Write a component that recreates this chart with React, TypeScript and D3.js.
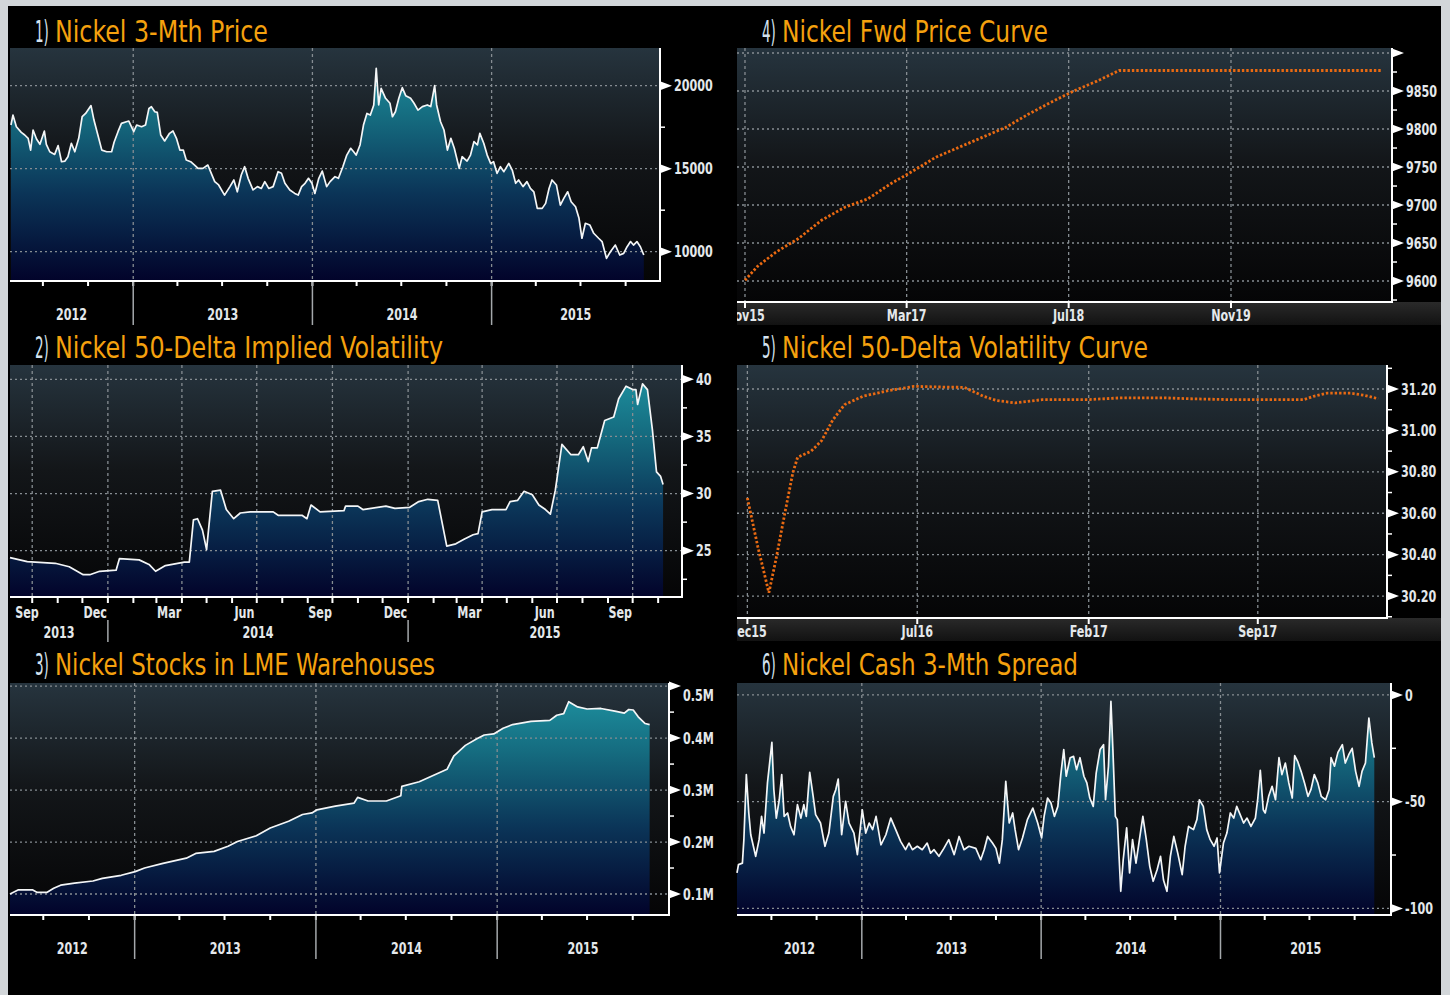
import React from "react";
import * as d3 from "d3";

const W = 1450;
const H = 995;
const FONT = "'Liberation Sans Narrow', 'DejaVu Sans Condensed', 'Arial Narrow', sans-serif";
const ORANGE = "#f5a10e";
const GRID = "#868d92";
const parse = d3.timeParse("%Y-%m-%d");

// 1) Nickel 3-Mth Price
const priceDates = [
  "2012-04-27","2012-05-01","2012-05-08","2012-05-18","2012-05-25","2012-06-01","2012-06-06","2012-06-11","2012-06-18","2012-06-25",
  "2012-07-04","2012-07-08","2012-07-15","2012-07-25","2012-08-01","2012-08-08","2012-08-15","2012-08-21","2012-08-28","2012-09-04",
  "2012-09-12","2012-09-19","2012-09-26","2012-10-07","2012-10-13","2012-10-21","2012-10-29","2012-11-08","2012-11-18","2012-11-23",
  "2012-12-01","2012-12-08","2012-12-18","2012-12-23","2013-01-02","2013-01-08","2013-01-18","2013-01-26","2013-02-02","2013-02-07",
  "2013-02-14","2013-02-19","2013-02-26","2013-03-06","2013-03-16","2013-03-23","2013-03-30","2013-04-06","2013-04-13","2013-04-19",
  "2013-04-28","2013-05-06","2013-05-13","2013-05-23","2013-06-02","2013-06-09","2013-06-16","2013-06-24","2013-07-06","2013-07-17",
  "2013-07-25","2013-08-01","2013-08-09","2013-08-16","2013-08-23","2013-09-02","2013-09-11","2013-09-19","2013-09-26","2013-10-04",
  "2013-10-13","2013-10-23","2013-10-30","2013-11-06","2013-11-16","2013-11-26","2013-12-03","2013-12-10","2013-12-17","2013-12-24",
  "2013-12-31","2014-01-06","2014-01-14","2014-01-21","2014-01-30","2014-02-06","2014-02-16","2014-02-23","2014-03-04","2014-03-12",
  "2014-03-20","2014-03-26","2014-03-31","2014-04-08","2014-04-15","2014-04-22","2014-04-29","2014-05-06","2014-05-11","2014-05-16",
  "2014-05-21","2014-05-30","2014-06-08","2014-06-13","2014-06-19","2014-06-26","2014-07-03","2014-07-10","2014-07-20","2014-07-27",
  "2014-08-04","2014-08-13","2014-08-23","2014-08-30","2014-09-07","2014-09-11","2014-09-19","2014-09-26","2014-10-03","2014-10-10",
  "2014-10-17","2014-10-27","2014-11-02","2014-11-12","2014-11-19","2014-11-26","2014-12-03","2014-12-08","2014-12-16","2014-12-23",
  "2014-12-30","2015-01-05","2015-01-12","2015-01-19","2015-01-26","2015-02-05","2015-02-12","2015-02-19","2015-02-25","2015-03-06",
  "2015-03-14","2015-03-21","2015-03-28","2015-04-04","2015-04-14","2015-04-21","2015-04-28","2015-05-04","2015-05-13","2015-05-21",
  "2015-05-28","2015-06-05","2015-06-12","2015-06-21","2015-06-28","2015-07-04","2015-07-11","2015-07-20","2015-07-28","2015-08-07",
  "2015-08-14","2015-08-23","2015-08-31","2015-09-10","2015-09-19","2015-09-27","2015-10-04","2015-10-11","2015-10-17","2015-10-24",
  "2015-10-31","2015-11-07"
];
const priceValues = [
  17630,18230,17530,17190,17030,16830,16120,17330,16790,16470,
  17270,16470,16020,15860,16390,15420,15460,15720,16530,16020,
  16830,18130,18330,18800,17930,17030,16120,16020,16020,16590,
  17230,17730,17830,17870,17230,17630,17530,17630,18630,18730,
  18430,18390,17030,16670,17130,17270,16830,16120,16120,15520,
  15420,15220,15020,15020,15220,14720,14220,14020,13410,13920,
  14320,13610,14620,15120,14420,13720,13920,13810,14220,13810,
  13920,14820,14720,14120,13720,13510,13410,13920,14120,14420,
  14120,13510,14420,14860,13920,14220,14520,14420,15120,15820,
  16230,16020,15820,16430,17630,18330,18230,18840,21040,18840,
  19840,19240,18940,18130,18430,19240,19880,19400,19240,18940,
  18530,18740,18840,18740,20000,18840,17830,17330,16120,16830,
  16230,15020,15720,15460,15820,16630,16430,17130,16530,15820,
  15320,15420,14720,15120,14820,15320,14920,14120,14320,13920,
  14220,13810,13610,12610,12610,12910,13810,14320,14020,12810,
  13210,13610,13010,12710,12010,10810,11710,11610,11110,10810,
  10610,9600,10000,10400,9800,9900,10300,10610,10400,10610,
  10300,9800
];

// 2) Nickel 50-Delta Implied Volatility
const volDates = [
  "2013-09-04","2013-09-25","2013-10-29","2013-11-15","2013-12-02","2013-12-10","2013-12-22","2014-01-11","2014-01-15","2014-02-08",
  "2014-02-20","2014-02-28","2014-03-12","2014-04-04","2014-04-10","2014-04-15","2014-04-20","2014-04-26","2014-05-01","2014-05-08",
  "2014-05-18","2014-05-25","2014-06-03","2014-06-11","2014-06-23","2014-07-21","2014-07-27","2014-08-25","2014-08-31","2014-09-05",
  "2014-09-16","2014-10-15","2014-10-17","2014-11-01","2014-11-07","2014-12-05","2014-12-16","2015-01-03","2015-01-14","2015-01-25",
  "2015-02-06","2015-02-17","2015-02-28","2015-03-10","2015-03-21","2015-03-27","2015-04-01","2015-04-13","2015-04-30","2015-05-05",
  "2015-05-14","2015-05-22","2015-06-01","2015-06-09","2015-06-17","2015-06-23","2015-06-29","2015-07-07","2015-07-18","2015-07-27",
  "2015-08-02","2015-08-08","2015-08-12","2015-08-19","2015-08-28","2015-09-08","2015-09-14","2015-09-23","2015-10-01","2015-10-05",
  "2015-10-07","2015-10-13","2015-10-19","2015-10-25","2015-10-30","2015-11-04","2015-11-07"
];
const volValues = [
  24.4,24.05,23.9,23.6,22.9,22.9,23.2,23.3,24.3,24.2,
  23.8,23.2,23.7,24.0,24.0,27.7,27.8,26.8,25.1,30.2,
  30.3,28.6,27.8,28.3,28.4,28.4,28.1,28.1,27.8,29.0,
  28.4,28.5,28.9,28.9,28.6,28.9,28.7,28.8,29.3,29.5,
  29.4,25.4,25.6,26.0,26.4,26.5,28.4,28.6,28.6,29.3,
  29.4,30.2,29.9,29.0,28.6,28.2,30.3,34.3,33.4,33.4,
  34.1,32.8,34.0,34.0,36.4,36.7,38.3,39.4,39.1,39.1,
  37.8,39.6,39.1,35.6,31.9,31.5,30.8
];

// 3) Nickel Stocks in LME Warehouses (million tonnes)
const stockDates = [
  "2012-04-25","2012-05-12","2012-06-09","2012-06-19","2012-07-08","2012-07-22","2012-08-05","2012-09-02","2012-10-09","2012-10-28",
  "2012-12-05","2013-01-02","2013-01-21","2013-02-27","2013-04-15","2013-05-04","2013-06-10","2013-07-08","2013-07-27","2013-09-03",
  "2013-10-01","2013-11-07","2013-12-05","2013-12-24","2014-01-03","2014-02-09","2014-03-19","2014-03-26","2014-04-16","2014-05-23",
  "2014-06-21","2014-06-23","2014-07-28","2014-08-25","2014-09-22","2014-10-06","2014-10-29","2014-11-22","2014-12-06","2014-12-25",
  "2015-01-13","2015-02-01","2015-03-10","2015-04-17","2015-05-01","2015-05-15","2015-05-25","2015-06-12","2015-07-01","2015-07-29",
  "2015-08-26","2015-09-14","2015-09-23","2015-10-02","2015-10-12","2015-10-26","2015-11-04"
];
const stockValues = [
  0.100,0.108,0.108,0.103,0.103,0.111,0.117,0.121,0.125,0.130,
  0.136,0.143,0.150,0.159,0.169,0.178,0.182,0.192,0.201,0.212,
  0.227,0.240,0.253,0.256,0.262,0.269,0.275,0.286,0.279,0.279,
  0.289,0.307,0.316,0.328,0.340,0.366,0.386,0.399,0.406,0.408,
  0.419,0.426,0.432,0.434,0.444,0.447,0.470,0.460,0.456,0.457,
  0.452,0.448,0.455,0.454,0.441,0.428,0.426
];

// 4) Nickel Fwd Price Curve
const fwdDates = [
  "2015-11-01","2015-12-08","2016-02-02","2016-04-10","2016-06-18","2016-08-27","2016-11-04","2017-01-12","2017-03-21","2017-05-28",
  "2017-08-06","2017-10-14","2017-12-23","2018-02-28","2018-05-08","2018-07-16","2018-09-24","2018-11-30","2021-01-28"
];
const fwdValues = [
  9601,9619,9638,9656,9680,9697,9708,9728,9745,9763,
  9776,9789,9802,9819,9835,9850,9863,9877,9877
];

// 5) Nickel 50-Delta Volatility Curve
const volCurveDates = [
  "2015-12-01","2015-12-14","2015-12-28","2016-01-06","2016-01-18","2016-01-27","2016-02-02","2016-02-19","2016-03-03","2016-03-17",
  "2016-04-01","2016-04-24","2016-05-23","2016-06-27","2016-07-25","2016-08-29","2016-09-22","2016-10-09","2016-11-01","2016-12-05",
  "2017-02-02","2017-03-12","2017-05-09","2017-06-07","2017-07-23","2017-09-02","2017-10-29","2017-11-10","2017-11-27","2017-12-26",
  "2018-01-12","2018-01-30"
];
const volCurveValues = [
  30.674,30.44,30.216,30.38,30.62,30.795,30.87,30.90,30.95,31.05,
  31.125,31.165,31.19,31.213,31.21,31.208,31.165,31.144,31.133,31.149,
  31.149,31.157,31.157,31.153,31.149,31.149,31.149,31.165,31.18,31.18,
  31.17,31.153
];

// 6) Nickel Cash 3-Mth Spread
const spreadDates = [
  "2012-04-22","2012-04-25","2012-05-03","2012-05-06","2012-05-11","2012-05-16","2012-05-20","2012-05-30","2012-06-06","2012-06-11",
  "2012-06-16","2012-06-23","2012-07-02","2012-07-06","2012-07-11","2012-07-17","2012-07-22","2012-07-27","2012-08-03","2012-08-09",
  "2012-08-16","2012-08-23","2012-08-30","2012-09-05","2012-09-10","2012-09-17","2012-09-24","2012-09-29","2012-10-09","2012-10-18",
  "2012-10-26","2012-11-04","2012-11-09","2012-11-14","2012-11-21","2012-11-29","2012-12-06","2012-12-16","2012-12-23","2013-01-02",
  "2013-01-09","2013-01-16","2013-01-23","2013-01-30","2013-02-09","2013-02-19","2013-03-01","2013-03-11","2013-03-21","2013-03-31",
  "2013-04-07","2013-04-14","2013-04-24","2013-05-04","2013-05-14","2013-05-21","2013-05-28","2013-06-07","2013-06-17","2013-06-27",
  "2013-07-08","2013-07-18","2013-07-28","2013-08-07","2013-08-21","2013-08-31","2013-09-07","2013-09-14","2013-09-24","2013-10-01",
  "2013-10-08","2013-10-14","2013-10-21","2013-10-28","2013-11-04","2013-11-09","2013-11-16","2013-11-24","2013-12-04","2013-12-15",
  "2013-12-25","2014-01-02","2014-01-07","2014-01-14","2014-01-21","2014-01-28","2014-02-04","2014-02-10","2014-02-16","2014-02-21",
  "2014-03-01","2014-03-08","2014-03-14","2014-03-21","2014-03-29","2014-04-04","2014-04-10","2014-04-17","2014-04-23","2014-05-01",
  "2014-05-08","2014-05-12","2014-05-18","2014-05-23","2014-05-27","2014-06-01","2014-06-05","2014-06-12","2014-06-17","2014-06-24",
  "2014-06-30","2014-07-06","2014-07-13","2014-07-20","2014-07-27","2014-08-03","2014-08-10","2014-08-17","2014-08-25","2014-09-01",
  "2014-09-07","2014-09-14","2014-09-21","2014-09-28","2014-10-06","2014-10-15","2014-10-21","2014-10-28","2014-11-07","2014-11-14",
  "2014-11-19","2014-11-27","2014-12-04","2014-12-11","2014-12-19","2014-12-25","2014-12-30","2015-01-07","2015-01-14","2015-01-21",
  "2015-01-28","2015-02-03","2015-02-10","2015-02-17","2015-02-24","2015-03-04","2015-03-13","2015-03-18","2015-03-23","2015-03-29",
  "2015-04-02","2015-04-09","2015-04-16","2015-04-23","2015-04-30","2015-05-06","2015-05-13","2015-05-20","2015-05-27","2015-06-01",
  "2015-06-07","2015-06-14","2015-06-21","2015-06-28","2015-07-04","2015-07-11","2015-07-18","2015-07-25","2015-08-03","2015-08-10",
  "2015-08-14","2015-08-21","2015-08-28","2015-09-06","2015-09-12","2015-09-19","2015-09-26","2015-10-03","2015-10-10","2015-10-16",
  "2015-10-23","2015-10-30","2015-11-05","2015-11-10"
];
const spreadValues = [
  -83.4,-79.5,-78.8,-67.8,-37.3,-55.3,-65.5,-75.6,-67.8,-56.9,
  -64.7,-41.2,-22.2,-44.4,-57.7,-49.1,-37.3,-56.9,-55.3,-61.6,
  -65.5,-51.4,-57.7,-51.4,-56.9,-36.3,-47.5,-56.1,-60,-70.9,
  -64.7,-47.5,-44.4,-39.4,-65.5,-49.8,-60,-64.7,-74.8,-53.8,
  -64.7,-60,-63.1,-56.9,-70.2,-65.5,-57.7,-63.1,-68.6,-72.5,
  -69.4,-72.5,-70.9,-72.5,-69.4,-74.1,-72.5,-75.6,-71.9,-67.8,
  -74.8,-66.3,-72.5,-70.9,-71.9,-77.2,-72.5,-66.3,-69.4,-71.9,
  -78.8,-67.8,-40.5,-60,-55.3,-63.1,-72.5,-67,-58.4,-53,
  -60,-67,-56.9,-48.3,-50.6,-56.9,-52.2,-37.3,-25.6,-38.1,
  -29.4,-28.8,-35,-29.4,-38.1,-41.2,-48.3,-52.2,-36.6,-25.6,
  -23.3,-49.1,-33.4,-3.0,-25.6,-56.9,-58.4,-92,-77.2,-62.3,
  -83.4,-67.8,-78.8,-67.8,-56.9,-67.8,-80.3,-87.3,-81.9,-75.6,
  -86.7,-92,-75.6,-66.3,-74.1,-84.2,-70.9,-61.6,-63.1,-58.4,
  -49.1,-52.2,-63.1,-67.8,-70.9,-67,-83.4,-69.4,-64.7,-55.3,
  -57.7,-52.2,-56.1,-60,-57.7,-61.6,-57.7,-48.3,-35.3,-53.8,
  -55.3,-47.5,-42.8,-49.1,-29.4,-37.3,-31.9,-41.2,-48.3,-28.4,
  -31.1,-35.8,-41.2,-47.5,-44.4,-37.3,-41.2,-47.5,-49.1,-44.4,
  -29.4,-33.4,-26.9,-23.3,-31.9,-28,-25,-35.8,-42.8,-35.8,
  -31.9,-10.8,-22.5,-29.4
];

// axis ticks
const priceTicks = [20000, 15000, 10000];
const priceMinor = [17500, 12500];
const volTicks = [40, 35, 30, 25];
const volMinor = [37.5, 32.5, 27.5, 22.5];
const stockTicks = [0.5, 0.4, 0.3, 0.2, 0.1];
const stockMinor = [0.45, 0.35, 0.25, 0.15];
const fwdTicks = [9900, 9850, 9800, 9750, 9700, 9650, 9600];
const fwdMinor = [9875, 9825, 9775, 9725, 9675, 9625, 9575];
const volCurveTicks = [31.2, 31.0, 30.8, 30.6, 30.4, 30.2];
const volCurveMinor = [31.3, 31.1, 30.9, 30.7, 30.5, 30.3, 30.1];
const spreadTicks = [0, -50, -100];
const spreadMinor = [-25, -75];
const fwdAxisDates = ["2015-11-01", "2017-03-01", "2018-07-01", "2019-11-01"];
const volCurveAxisDates = ["2015-12-01", "2016-07-01", "2017-02-01", "2017-09-01"];

type Cfg = {
  id: string;
  num: string;
  title: string;
  titleW: number;
  tx: number;
  ty: number;
  x0: number; x1: number; y0: number; y1: number;
  xDomain: [string, string];
  yDomain: [number, number];
  ticks: number[];
  labels: string[];
  minor: number[];
  dates: string[];
  values: number[];
  kind: "area" | "dots";
  axis: "years" | "months" | "band";
  bandDates?: string[];
};

const panels: Cfg[] = [
  {
    id: "p1", num: "1)", title: "Nickel 3-Mth Price", titleW: 213, tx: 35, ty: 42,
    x0: 10, x1: 660, y0: 48, y1: 281, xDomain: ["2012-04-25", "2015-12-10"], yDomain: [8235, 22270],
    ticks: priceTicks, labels: priceTicks.map(String), minor: priceMinor,
    dates: priceDates, values: priceValues, kind: "area", axis: "years"
  },
  {
    id: "p2", num: "2)", title: "Nickel 50-Delta Implied Volatility", titleW: 388, tx: 35, ty: 358,
    x0: 10, x1: 682, y0: 365, y1: 597, xDomain: ["2013-09-04", "2015-11-30"], yDomain: [20.95, 41.25],
    ticks: volTicks, labels: volTicks.map(String), minor: volMinor,
    dates: volDates, values: volValues, kind: "area", axis: "months"
  },
  {
    id: "p3", num: "3)", title: "Nickel Stocks in LME Warehouses", titleW: 380, tx: 35, ty: 675,
    x0: 10, x1: 669, y0: 683, y1: 915, xDomain: ["2012-04-25", "2015-12-13"], yDomain: [0.0596, 0.506],
    ticks: stockTicks, labels: stockTicks.map(v => v.toFixed(1) + "M"), minor: stockMinor,
    dates: stockDates, values: stockValues, kind: "area", axis: "years"
  },
  {
    id: "p4", num: "4)", title: "Nickel Fwd Price Curve", titleW: 266, tx: 762, ty: 42,
    x0: 737, x1: 1392, y0: 48, y1: 302, xDomain: ["2015-10-08", "2021-02-27"], yDomain: [9572.4, 9906.6],
    ticks: fwdTicks, labels: fwdTicks.map(v => (v === 9900 ? "" : String(v))), minor: fwdMinor,
    dates: fwdDates, values: fwdValues, kind: "dots", axis: "band", bandDates: fwdAxisDates
  },
  {
    id: "p5", num: "5)", title: "Nickel 50-Delta Volatility Curve", titleW: 366, tx: 762, ty: 358,
    x0: 737, x1: 1387, y0: 365, y1: 618, xDomain: ["2015-11-18", "2018-02-10"], yDomain: [30.094, 31.316],
    ticks: volCurveTicks, labels: volCurveTicks.map(v => v.toFixed(2)), minor: volCurveMinor,
    dates: volCurveDates, values: volCurveValues, kind: "dots", axis: "band", bandDates: volCurveAxisDates
  },
  {
    id: "p6", num: "6)", title: "Nickel Cash 3-Mth Spread", titleW: 296, tx: 762, ty: 675,
    x0: 737, x1: 1391, y0: 683, y1: 915, xDomain: ["2012-04-22", "2015-12-14"], yDomain: [-103.1, 5.6],
    ticks: spreadTicks, labels: spreadTicks.map(String), minor: spreadMinor,
    dates: spreadDates, values: spreadValues, kind: "area", axis: "years"
  }
];

const axisText = { fontFamily: FONT, fontWeight: 700, fontSize: 15.5, fill: "#e4e8eb" } as const;

// condensed label: the installed fonts are wider than the terminal font, so squeeze horizontally
function Lbl({ x, y, anchor = "start", children }: { x: number; y: number; anchor?: string; children: React.ReactNode }) {
  return (
    <g transform={`translate(${x},${y}) scale(0.8,1)`}>
      <text dy="0.36em" textAnchor={anchor as any} {...axisText}>{children}</text>
    </g>
  );
}

function Panel({ c }: { c: Cfg }) {
  const { x0, x1, y0, y1 } = c;
  const start = parse(c.xDomain[0])!;
  const end = parse(c.xDomain[1])!;
  const x = d3.scaleTime().domain([start, end]).range([x0, x1]);
  const y = d3.scaleLinear().domain(c.yDomain).range([y1, y0]);
  const pts = c.dates.map((d, i) => ({ t: parse(d)!, v: c.values[i] }));
  type P = { t: Date; v: number };
  const line = d3.line<P>().x(d => x(d.t)).y(d => y(d.v));
  const area = d3.area<P>().x(d => x(d.t)).y0(y1).y1(d => y(d.v));

  let vgrid: Date[] = [];
  if (c.axis === "years") vgrid = d3.timeYear.range(start, end).filter(d => d > start);
  if (c.axis === "months") vgrid = d3.timeMonth.range(start, end).filter(d => d.getMonth() % 3 === 0);
  if (c.axis === "band") vgrid = (c.bandDates || []).map(d => parse(d)!);

  const years = d3.timeYear.range(d3.timeYear.floor(start), end);
  const yearLabels = years.map(yr => {
    const a = Math.max(x0, x(yr));
    const b = Math.min(x1, x(d3.timeYear.offset(yr, 1)));
    return { label: String(yr.getFullYear()), cx: (a + b) / 2, w: b - a };
  }).filter(d => d.w > 30);

  const out: React.ReactNode[] = [];

  if (c.axis === "years") {
    d3.timeMonth.every(3)!.range(start, end).forEach((q, i) =>
      out.push(<line key={"q" + i} x1={x(q)} x2={x(q)} y1={y1} y2={y1 + 5} stroke="#fff" strokeWidth={2} />)
    );
    vgrid.forEach((yr, i) =>
      out.push(<line key={"ys" + i} x1={x(yr)} x2={x(yr)} y1={y1} y2={y1 + 44} stroke="#a4a8ab" strokeWidth={1.5} />)
    );
    yearLabels.forEach((d, i) => out.push(<Lbl key={"yl" + i} x={d.cx} y={y1 + 33} anchor="middle">{d.label}</Lbl>));
  }
  if (c.axis === "months") {
    d3.timeMonth.range(start, end).filter(d => d > start).forEach((m, i) =>
      out.push(<line key={"m" + i} x1={x(m)} x2={x(m)} y1={y1} y2={y1 + 6} stroke="#fff" strokeWidth={2} />)
    );
    d3.timeMonth.range(d3.timeMonth.floor(start), end)
      .filter(m => [8, 11, 2, 5].includes(m.getMonth()))
      .forEach((m, i) => {
        const a = Math.max(x0, x(m));
        const b = Math.min(x1, x(d3.timeMonth.offset(m, 1)));
        const cx = Math.max((a + b) / 2, x0 + 17);
        out.push(<Lbl key={"ml" + i} x={cx} y={y1 + 15} anchor="middle">{d3.timeFormat("%b")(m)}</Lbl>);
      });
    d3.timeYear.range(start, end).filter(d => d > start).forEach((yr, i) =>
      out.push(<line key={"ys" + i} x1={x(yr)} x2={x(yr)} y1={y1 + 23} y2={y1 + 45} stroke="#a4a8ab" strokeWidth={1.5} />)
    );
    yearLabels.forEach((d, i) => out.push(<Lbl key={"yl" + i} x={d.cx} y={y1 + 35} anchor="middle">{d.label}</Lbl>));
  }
  if (c.axis === "band") {
    out.push(<rect key="band" x={x0} y={y1} width={1441 - x0} height={23} fill="url(#band)" />);
    vgrid.forEach((t, i) => {
      out.push(<line key={"bt" + i} x1={x(t)} x2={x(t)} y1={y1} y2={y1 + 6} stroke="#fff" strokeWidth={2} />);
      out.push(
        <g key={"bl" + i} clipPath={`url(#clip-${c.id})`}>
          <Lbl x={x(t)} y={y1 + 13} anchor="middle">{d3.timeFormat("%b%y")(t)}</Lbl>
        </g>
      );
    });
  }

  return (
    <g>
      <defs>
        <linearGradient id={`fill-${c.id}`} gradientUnits="userSpaceOnUse" x1={0} x2={0} y1={y0} y2={y1}>
          <stop offset="0%" stopColor="#1f97a5" />
          <stop offset="30%" stopColor="#156b7f" />
          <stop offset="62%" stopColor="#0b3558" />
          <stop offset="100%" stopColor="#02032a" />
        </linearGradient>
        <clipPath id={`clip-${c.id}`}>
          <rect x={x0} y={y1} width={1441 - x0} height={30} />
        </clipPath>
      </defs>
      <rect x={x0} y={y0} width={x1 - x0} height={y1 - y0} fill="url(#plotbg)" />
      {c.kind === "area" && <path d={area(pts) || ""} fill={`url(#fill-${c.id})`} />}
      {c.ticks.map((v, i) => (
        <line key={"hg" + i} x1={x0} x2={x1} y1={y(v)} y2={y(v)} stroke={GRID} strokeWidth={1.3} strokeDasharray="2 3" />
      ))}
      {vgrid.map((t, i) => (
        <line key={"vg" + i} x1={x(t)} x2={x(t)} y1={y0} y2={y1} stroke={GRID} strokeWidth={1.3} strokeDasharray="3 3" />
      ))}
      {c.kind === "area" ? (
        <path d={line(pts) || ""} fill="none" stroke="#f4f6f7" strokeWidth={1.7} strokeLinejoin="round" />
      ) : (
        <path d={line(pts) || ""} fill="none" stroke="#ea6a12" strokeWidth={2.8} strokeDasharray="2.4 2" />
      )}
      {out}
      <line x1={x0} x2={x1 + 1} y1={y1} y2={y1} stroke="#fff" strokeWidth={2} />
      <line x1={x1} x2={x1} y1={y0} y2={y1} stroke="#fff" strokeWidth={2} />
      {c.minor.filter(v => y(v) >= y0 && y(v) <= y1).map((v, i) => (
        <line key={"mn" + i} x1={x1} x2={x1 + 5} y1={y(v)} y2={y(v)} stroke="#fff" strokeWidth={1.5} />
      ))}
      {c.ticks.map((v, i) => {
        const ty = y(v);
        return (
          <g key={"tk" + i}>
            <polygon points={`${x1},${ty - 4.5} ${x1 + 12},${ty} ${x1},${ty + 4.5}`} fill="#fff" />
            {c.labels[i] && <Lbl x={x1 + 14} y={Math.max(ty, y0 + 12)}>{c.labels[i]}</Lbl>}
          </g>
        );
      })}
      <g transform={`translate(${c.tx},${c.ty}) scale(0.5,1)`}>
        <text x={0} y={0} fontFamily={FONT} fontSize={30} fill="#d3e2ef">{c.num}</text>
      </g>
      <text x={c.tx + 20} y={c.ty} fontFamily={FONT} fontSize={30} fill={ORANGE} textLength={c.titleW} lengthAdjust="spacingAndGlyphs">
        {c.title}
      </text>
    </g>
  );
}

export default function App() {
  return (
    <div style={{ position: "absolute", left: 0, top: 0 }}>
      <svg width={W} height={H} style={{ display: "block" }}>
        <defs>
          <linearGradient id="plotbg" x1={0} x2={0} y1={0} y2={1}>
            <stop offset="0%" stopColor="#26343e" />
            <stop offset="45%" stopColor="#131619" />
            <stop offset="100%" stopColor="#050506" />
          </linearGradient>
          <linearGradient id="band" x1={0} x2={0} y1={0} y2={1}>
            <stop offset="0%" stopColor="#2a2a2a" />
            <stop offset="100%" stopColor="#121212" />
          </linearGradient>
        </defs>
        <rect width={W} height={H} fill="#d2d6d9" />
        <rect x={8} y={6} width={1433} height={H - 6} fill="#000" />
        {panels.map(c => (
          <Panel key={c.id} c={c} />
        ))}
      </svg>
    </div>
  );
}
